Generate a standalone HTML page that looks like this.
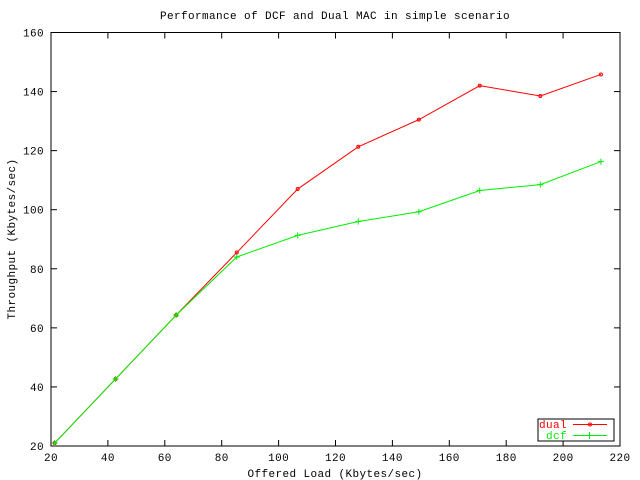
<!DOCTYPE html>
<html><head><meta charset="utf-8"><style>
body{margin:0;background:#fff}
svg{display:block;font-family:"Liberation Mono",monospace;font-size:11px;letter-spacing:0.4px}
</style></head><body>
<svg id="c" width="640" height="480">
<text x="335" y="19" text-anchor="middle">Performance of DCF and Dual MAC in simple scenario</text>
<text x="335" y="477" text-anchor="middle">Offered Load (Kbytes/sec)</text>
<text transform="translate(15,239) rotate(-90)" text-anchor="middle">Throughput (Kbytes/sec)</text>
<g id="ax"></g><g id="marks"></g>
<g>
<rect x="538" y="419" width="76" height="22" fill="#fff" stroke="#000"/>
<g><text x="567" y="428" text-anchor="end" fill="#ff0000">dual</text><line x1="573" y1="424.5" x2="607" y2="424.5" stroke="#ff0000"/><circle cx="590" cy="424.5" r="1.5" fill="none" stroke="#ff0000"/></g>
<g><text x="567" y="439" text-anchor="end" fill="#00ee00">dcf</text><line x1="573" y1="435.5" x2="607" y2="435.5" stroke="#00ee00"/><line x1="589.5" y1="432" x2="589.5" y2="439" stroke="#00ee00"/></g>
</g>
</svg>
<script>
const xVals=[21.3,42.7,64,85.3,106.7,128,149.3,170.7,192,213.3];
const dualVals=[21,42.7,64.3,85.5,107,121.3,130.5,142,138.5,145.8];
const dcfVals=[21,42.7,64.3,84,91.3,96,99.3,106.5,108.5,116.3];
const xTicks=[20,40,60,80,100,120,140,160,180,200,220];
const yTicks=[20,40,60,80,100,120,140,160];
const NS="http://www.w3.org/2000/svg";
const L=51,R=620,T=32.5,B=446;
const sx=v=>L+(v-20)/200*(R-L);
const sy=v=>B-(v-20)/140*(B-T);
function mk(tag,at,parent){const e=document.createElementNS(NS,tag);for(const k in at)e.setAttribute(k,at[k]);parent.appendChild(e);return e;}
const ax=document.getElementById('ax');
const frame=mk('rect',{x:L,y:T,width:R-L,height:B-T,fill:'none',stroke:'#000'},ax);


xTicks.forEach(t=>{const x=sx(t);
 mk('line',{x1:x,y1:B,x2:x,y2:B-6,stroke:'#000'},ax);mk('line',{x1:x,y1:T,x2:x,y2:T+6,stroke:'#000'},ax);
 const tx=mk('text',{x:x,y:B+15,'text-anchor':'middle'},ax);tx.textContent=t;
 
 });
yTicks.forEach(t=>{const y=sy(t);
 mk('line',{x1:L,y1:y,x2:L+6,y2:y,stroke:'#000'},ax);mk('line',{x1:R,y1:y,x2:R-6,y2:y,stroke:'#000'},ax);
 const tx=mk('text',{x:44,y:y+4,'text-anchor':'end'},ax);tx.textContent=t;
 
 });
const m=document.getElementById('marks');
function series(vals,color,name,plus){
 const g=mk('g',{},m);
 
 
 const pl=mk('polyline',{points:vals.map((v,i)=>sx(xVals[i])+','+sy(v)).join(' '),fill:'none',stroke:color},g);
 
 
 vals.forEach((v,i)=>{const x=sx(xVals[i]),y=sy(v);let p;
  if(plus){p=mk('path',{d:`M${x-3},${y}H${x+3}M${x},${y-3}V${y+3}`,stroke:color},g);}
  else{p=mk('circle',{cx:x,cy:y,r:1.5,fill:'none',stroke:color},g);}
  
  });
}
series(dualVals,'#ff0000','dual',false);
series(dcfVals,'#00ee00','dcf',true);
</script>
</body></html>
